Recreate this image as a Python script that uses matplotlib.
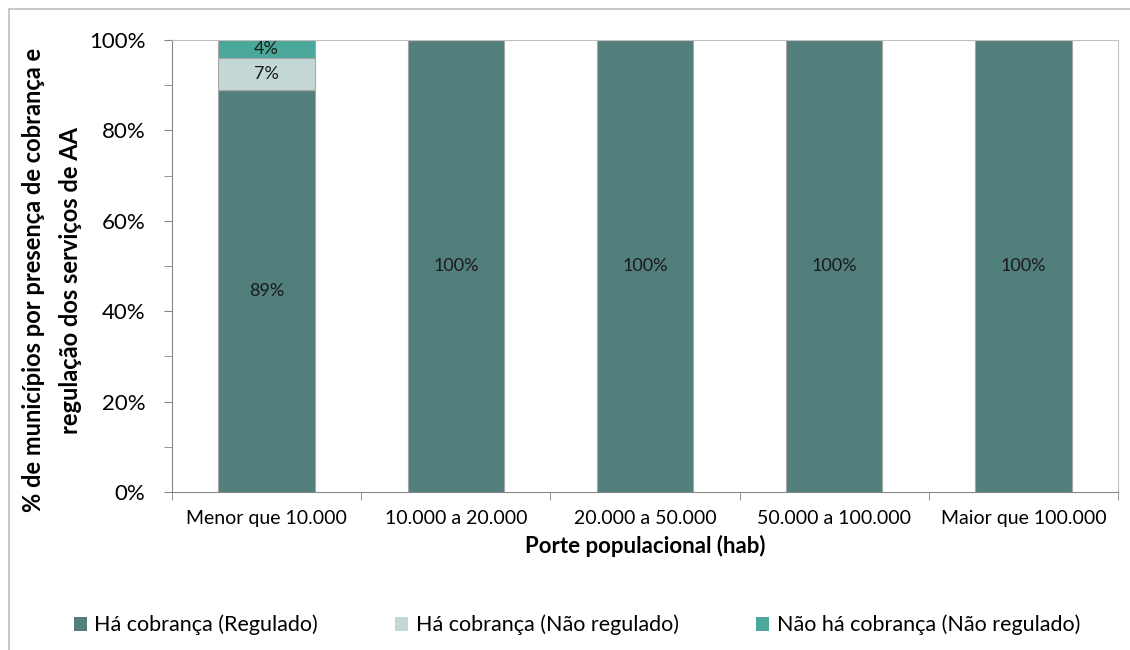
import matplotlib.pyplot as plt
import matplotlib.patches as mpatches
import numpy as np
from matplotlib.ticker import MultipleLocator, FuncFormatter

plt.rcParams['font.family'] = ['Lato', 'DejaVu Sans']

categories = ['Menor que 10.000', '10.000 a 20.000', '20.000 a 50.000',
              '50.000 a 100.000', 'Maior que 100.000']
regulado = [89, 100, 100, 100, 100]
nao_regulado = [7, 0, 0, 0, 0]
sem_cobranca = [4, 0, 0, 0, 0]

series = [
    ('Há cobrança (Regulado)', regulado, '#527e7c'),
    ('Há cobrança (Não regulado)', nao_regulado, '#c3d8d6'),
    ('Não há cobrança (Não regulado)', sem_cobranca, '#4aa99a'),
]

fig = plt.figure(figsize=(11.3, 6.5), dpi=100)
ax = fig.add_axes([172 / 1130, 1 - 492 / 650, (1118 - 172) / 1130, (492 - 40) / 650])

# outer chart border (only top/left visible in the reference)
fig.patches.append(mpatches.Rectangle((9 / 1130, -0.1), 1.2, 1 - 9 / 650 + 0.1,
                                      transform=fig.transFigure, fill=False,
                                      edgecolor='#bfbfbf', linewidth=1.2))

x = np.arange(len(categories))
bottom = np.zeros(len(categories))
handles = []
for name, vals, color in series:
    vals = np.array(vals, dtype=float)
    ax.bar(x, vals, width=0.51, bottom=bottom, color=color,
           edgecolor='#a6a6a6', linewidth=0.8, label=name)
    for xi, v, b in zip(x, vals, bottom):
        if v > 0:
            ax.text(xi, b + v / 2, f'{v:.0f}%', ha='center', va='center',
                    fontsize=13, color='#1a1a1a')
    bottom += vals
    handles.append(mpatches.Patch(facecolor=color, edgecolor='none', label=name))

ax.set_xlim(-0.5, len(categories) - 0.5)
ax.set_ylim(0, 100)
ax.yaxis.set_major_locator(MultipleLocator(20))
ax.yaxis.set_minor_locator(MultipleLocator(10))
ax.yaxis.set_major_formatter(FuncFormatter(lambda v, p: f'{v:.0f}%'))
ax.tick_params(axis='y', which='both', direction='out', length=6, color='#868686',
               labelsize=16, pad=13)

ax.set_xticks(x)
ax.set_xticklabels(categories, fontsize=14)
ax.set_xticks(np.arange(-0.5, len(categories)), minor=True)
ax.tick_params(axis='x', which='major', length=0, pad=13)
ax.tick_params(axis='x', which='minor', direction='out', length=6, color='#868686')

for s in ['top', 'right']:
    ax.spines[s].set_color('#bfbfbf')
for s in ['left', 'bottom']:
    ax.spines[s].set_color('#868686')

ax.set_xlabel('Porte populacional (hab)', fontsize=16, fontweight='bold', labelpad=6)
ax.set_ylabel('% de municípios por presença de cobrança e\nregulação dos serviços de AA',
              fontsize=17, fontweight='bold', linespacing=1.75)
ax.yaxis.set_label_coords((82 - 172) / 946, 0.469)

fig.legend(handles=handles, loc='center', bbox_to_anchor=(577 / 1130, 1 - 625 / 650),
           ncol=3, frameon=False, fontsize=15.5, handlelength=0.6, handleheight=0.6,
           handletextpad=0.35, columnspacing=3.6)

fig.savefig('out.png', dpi=100)
